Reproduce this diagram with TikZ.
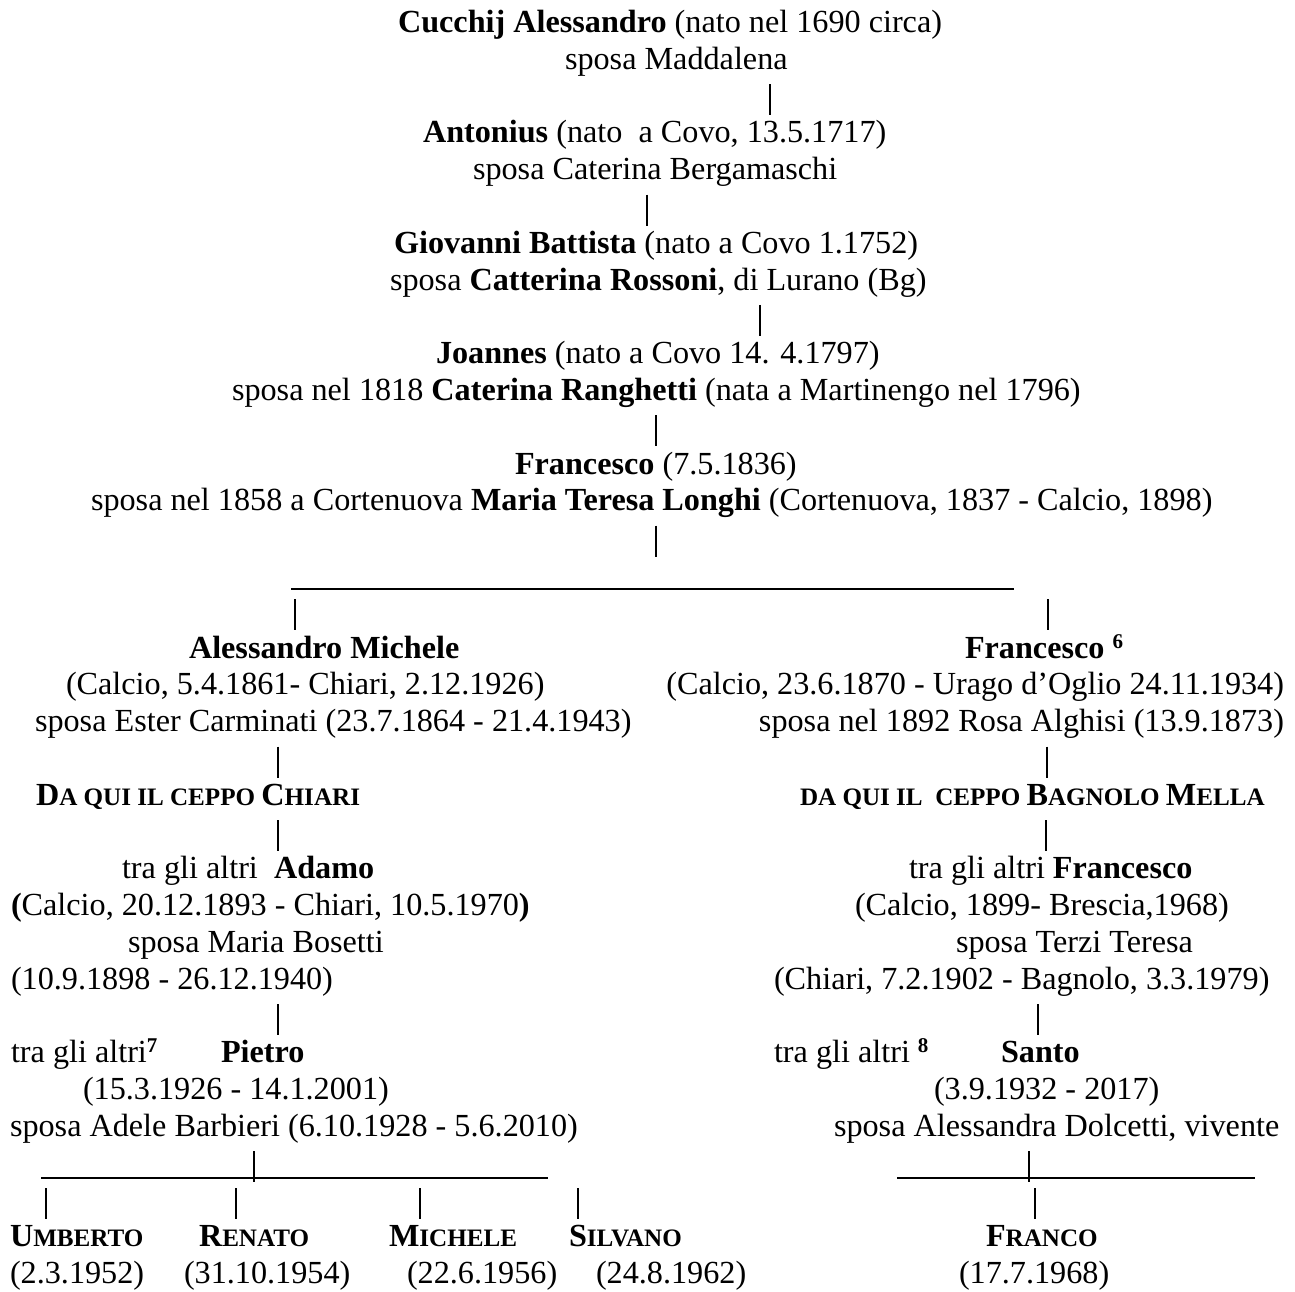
\documentclass[tikz,border=0pt]{standalone}
\usepackage{fontspec}
\setmainfont{Liberation Serif}
\newcommand\smc[1]{{\fontsize{25.1}{25.1}\selectfont #1}}
\newcommand\supb[1]{\raisebox{10pt}{\fontsize{21}{21}\selectfont\bfseries #1}}
\begin{document}
\begin{tikzpicture}[x=1pt,y=-1pt,
  txt/.style={anchor=base west,inner sep=0pt,outer sep=0pt,font=\fontsize{32.2}{36.8}\selectfont},
  txtr/.style={txt,anchor=base east},
  bar/.style={line width=1.4pt},
  rule/.style={line width=1.8pt}]
\path[fill=white] (0,0) rectangle (1295,1291);
\useasboundingbox (0,0) rectangle (1295,1291);
% ---- top chain
\node[txt] (cucchij) at (398,32.5) {\textbf{Cucchij Alessandro} (nato nel 1690 circa)};
\node[txt] (cucchijs) at (565,69.3) {sposa Maddalena};
\node[txt] (antonius) at (423,142.9) {\textbf{Antonius} (nato\ \ a Covo, 13.5.1717)};
\node[txt] (antoniuss) at (473,179.7) {sposa Caterina Bergamaschi};
\node[txt] (giovanni) at (394,253.3) {\textbf{Giovanni Battista} (nato a Covo 1.1752)};
\node[txt] (giovannis) at (390,290.1) {sposa \textbf{Catterina Rossoni}, di Lurano (Bg)};
\node[txt] (joannes) at (436,363.7) {\textbf{Joannes} (nato a Covo 14. 4.1797)};
\node[txt] (joanness) at (232,400.5) {sposa nel 1818 \textbf{Caterina Ranghetti} (nata a Martinengo nel 1796)};
\node[txt] (francesco) at (515,474.1) {\textbf{Francesco} (7.5.1836)};
\node[txt] (francescos) at (91,510.9) {sposa nel 1858 a Cortenuova \textbf{Maria Teresa Longhi} (Cortenuova, 1837 - Calcio, 1898)};
\coordinate (a1) at (770,84.1);  \coordinate (a2) at (770,115.1);
\coordinate (b1) at (647,194.5); \coordinate (b2) at (647,225.5);
\coordinate (c1) at (760,304.9); \coordinate (c2) at (760,335.9);
\coordinate (d1) at (656,415.3); \coordinate (d2) at (656,446.3);
\coordinate (e1) at (656,525.7); \coordinate (e2) at (656,556.7);
\draw[bar] (a1) -- (a2);
\draw[bar] (b1) -- (b2);
\draw[bar] (c1) -- (c2);
\draw[bar] (d1) -- (d2);
\draw[bar] (e1) -- (e2);
% ---- split
\coordinate (hl) at (291,589); \coordinate (hr) at (1014,589);
\draw[rule] (hl) -- (hr);
\coordinate (f1) at (295,599.3);  \coordinate (f2) at (295,630.3);
\coordinate (g1) at (1048,599.3); \coordinate (g2) at (1048,630.3);
\draw[bar] (f1) -- (f2);
\draw[bar] (g1) -- (g2);
% ---- left branch
\node[txt] (alessandro) at (189,658.1) {\textbf{Alessandro Michele}};
\node[txt] (alessandrod) at (66,694.9) {(Calcio, 5.4.1861- Chiari, 2.12.1926)};
\node[txt] (alessandros) at (35,731.7) {sposa Ester Carminati (23.7.1864 - 21.4.1943)};
\node[txt] (chiari) at (36,805.3) {\textbf{D\smc{A QUI IL CEPPO }C\smc{HIARI}}};
\node[txt] (adamo) at (122,878.9) {tra gli altri\ \ \textbf{Adamo}};
\node[txt] (adamod) at (11,915.7) {\textbf{(}Calcio, 20.12.1893 - Chiari, 10.5.1970\textbf{)}};
\node[txt] (adamos) at (128,952.5) {sposa Maria Bosetti};
\node[txt] (adamosd) at (11,989.3) {(10.9.1898 - 26.12.1940)};
\node[txt] (tra7) at (11,1062.9) {tra gli altri\supb{7}};
\node[txt] (pietro) at (221,1062.9) {\textbf{Pietro}};
\node[txt] (pietrod) at (83,1099.7) {(15.3.1926 - 14.1.2001)};
\node[txt] (pietros) at (10,1136.5) {sposa Adele Barbieri (6.10.1928 - 5.6.2010)};
\coordinate (h1) at (278,746.5);  \coordinate (h2) at (278,777.5);
\coordinate (i1) at (278,820.1);  \coordinate (i2) at (278,851.1);
\coordinate (j1) at (278,1004.1); \coordinate (j2) at (278,1035.1);
\draw[bar] (h1) -- (h2);
\draw[bar] (i1) -- (i2);
\draw[bar] (j1) -- (j2);
\coordinate (k1) at (254,1151.3); \coordinate (k2) at (254,1182.3);
\coordinate (kl) at (41,1178); \coordinate (kr) at (548,1178);
\draw[rule] (kl) -- (kr);
\draw[bar] (k1) -- (k2);
\foreach \n/\x in {u/46,r/236,m/420,s/578}{
  \coordinate (\n1) at (\x,1188.1); \coordinate (\n2) at (\x,1219.1);
  \draw[bar] (\n1) -- (\n2);
}
\node[txt] (umberto) at (10,1246.9) {\textbf{U\smc{MBERTO}}};
\node[txt] (renato) at (199,1246.9) {\textbf{R\smc{ENATO}}};
\node[txt] (michele) at (389,1246.9) {\textbf{M\smc{ICHELE}}};
\node[txt] (silvano) at (569,1246.9) {\textbf{S\smc{ILVANO}}};
\node[txt] (umbertod) at (10,1283.7) {(2.3.1952)};
\node[txt] (renatod) at (184,1283.7) {(31.10.1954)};
\node[txt] (micheled) at (407,1283.7) {(22.6.1956)};
\node[txt] (silvanod) at (596,1283.7) {(24.8.1962)};
% ---- right branch
\node[txt] (francesco6) at (965,658.1) {\textbf{Francesco \supb{6}}};
\node[txtr] (francesco6d) at (1284,694.9) {(Calcio, 23.6.1870 - Urago d’Oglio 24.11.1934)};
\node[txtr] (francesco6s) at (1284,731.7) {sposa nel 1892 Rosa Alghisi (13.9.1873)};
\node[txt] (bagnolo) at (800,805.3) {\textbf{\smc{DA QUI IL\ \ CEPPO }B\smc{AGNOLO }M\smc{ELLA}}};
\node[txt] (francescob) at (909,878.9) {tra gli altri \textbf{Francesco}};
\node[txt] (francescobd) at (855,915.7) {(Calcio, 1899- Brescia,1968)};
\node[txt] (francescobs) at (956,952.5) {sposa Terzi Teresa};
\node[txt] (francescobsd) at (774,989.3) {(Chiari, 7.2.1902 - Bagnolo, 3.3.1979)};
\node[txt] (tra8) at (774,1062.9) {tra gli altri \supb{8}};
\node[txt] (santo) at (1001,1062.9) {\textbf{Santo}};
\node[txt] (santod) at (934,1099.7) {(3.9.1932 - 2017)};
\node[txt] (santos) at (834,1136.5) {sposa Alessandra Dolcetti, vivente};
\coordinate (l1) at (1047,746.5);  \coordinate (l2) at (1047,777.5);
\coordinate (m1) at (1046,820.1);  \coordinate (m2) at (1046,851.1);
\coordinate (n1) at (1038,1004.1); \coordinate (n2) at (1038,1035.1);
\draw[bar] (l1) -- (l2);
\draw[bar] (m1) -- (m2);
\draw[bar] (n1) -- (n2);
\coordinate (o1) at (1029,1151.3); \coordinate (o2) at (1029,1182.3);
\coordinate (ol) at (897,1178); \coordinate (or) at (1255,1178);
\draw[rule] (ol) -- (or);
\draw[bar] (o1) -- (o2);
\coordinate (p1) at (1035,1188.1); \coordinate (p2) at (1035,1219.1);
\draw[bar] (p1) -- (p2);
\node[txt] (franco) at (986,1246.9) {\textbf{F\smc{RANCO}}};
\node[txt] (francod) at (959,1283.7) {(17.7.1968)};
\end{tikzpicture}
\end{document}
